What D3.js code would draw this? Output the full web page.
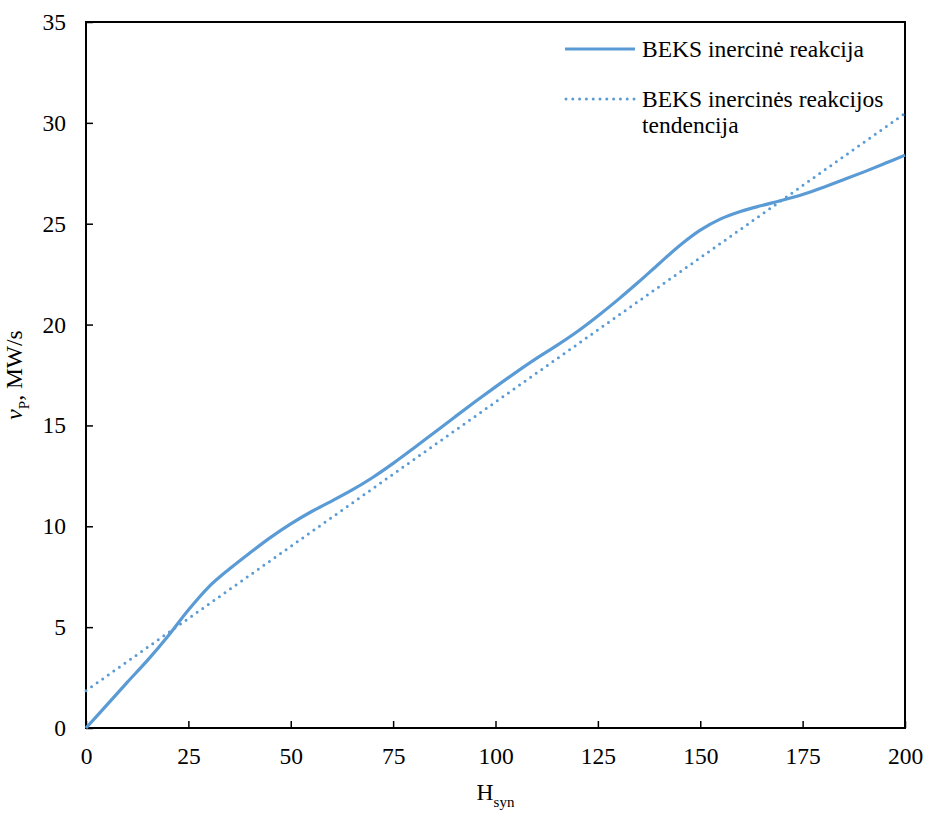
<!DOCTYPE html>
<html>
<head>
<meta charset="utf-8">
<script src="https://cdn.jsdelivr.net/npm/d3@7"></script>
<style>
  body { margin: 0; background: #fff; }
  text { font-family: "Liberation Serif", "Times New Roman", serif; fill: #000; }
</style>
</head>
<body>
<script>
// data
var hSyn = [0, 5, 10, 15, 20, 25, 30, 35, 40, 45, 50, 55, 60, 65, 70, 75, 80, 85, 90, 95, 100,
            105, 110, 115, 120, 125, 130, 135, 140, 145, 150, 155, 160, 165, 170, 175, 180, 185, 190, 195, 200];
var vP = [0, 1.12, 2.25, 3.35, 4.55, 5.85, 7.0, 7.88, 8.68, 9.44, 10.12, 10.72, 11.25, 11.8, 12.42, 13.12, 13.87, 14.64, 15.41, 16.17, 16.91,
          17.63, 18.32, 18.97, 19.66, 20.43, 21.25, 22.12, 23.03, 23.92, 24.68, 25.24, 25.62, 25.9, 26.16, 26.45, 26.8, 27.18, 27.57, 27.98, 28.4];
// trend line end points
var trendX = [0, 200];
var trendY = [1.85, 30.47];
var xTicks = [0, 25, 50, 75, 100, 125, 150, 175, 200];
var yTicks = [0, 5, 10, 15, 20, 25, 30, 35];
var legendLabels = ["BEKS inercinė reakcija", ["BEKS inercinės reakcijos", "tendencija"]];

var W = 926, H = 814;
var margin = {top: 22, right: 21, bottom: 86, left: 86};
var w = W - margin.left - margin.right;
var h = H - margin.top - margin.bottom;
var blue = '#5b9bd5';
var fontSize = '23.5px';

var svg = d3.select('body').append('svg')
  .attr('width', W)
  .attr('height', H);

var g = svg.append('g')
  .attr('transform', 'translate(' + margin.left + ',' + margin.top + ')');

var x = d3.scaleLinear().domain([0, 200]).range([0, w]);
var y = d3.scaleLinear().domain([0, 35]).range([h, 0]);

//axes with inward ticks
var xAxis = d3.axisBottom(x).tickValues(xTicks).tickSizeInner(-7).tickSizeOuter(0).tickPadding(19);
var yAxis = d3.axisLeft(y).tickValues(yTicks).tickSizeInner(-7).tickSizeOuter(0).tickPadding(20);

var gx = g.append('g').attr('transform', 'translate(0,' + h + ')').call(xAxis);
var gy = g.append('g').call(yAxis);
[gx, gy].forEach(function (a) {
  a.attr('font-family', null);
  a.select('.domain').remove();
  a.selectAll('line').attr('stroke', '#000').attr('stroke-width', 1.5);
  a.selectAll('text').style('font-size', fontSize).style('font-family', '"Liberation Serif", serif');
});

// plot frame
g.append('rect')
  .attr('x', 0).attr('y', 0)
  .attr('width', w).attr('height', h)
  .attr('fill', 'none')
  .attr('stroke', '#000')
  .attr('stroke-width', 2);

var line = d3.line()
  .x(function (d) { return x(d[0]); })
  .y(function (d) { return y(d[1]); })
  .curve(d3.curveCatmullRom.alpha(0.5));

g.append('path')
  .datum(trendX.map(function (v, i) { return [v, trendY[i]]; }))
  .attr('d', d3.line().x(function (d) { return x(d[0]); }).y(function (d) { return y(d[1]); }))
  .attr('fill', 'none')
  .attr('stroke', blue)
  .attr('stroke-width', 3)
  .attr('stroke-linecap', 'round')
  .attr('stroke-dasharray', '0 6.8');

g.append('path')
  .datum(hSyn.map(function (v, i) { return [v, vP[i]]; }))
  .attr('d', line)
  .attr('fill', 'none')
  .attr('stroke', blue)
  .attr('stroke-width', 3.2);

// legend
var leg = svg.append('g');
leg.append('line')
  .attr('x1', 565).attr('x2', 635).attr('y1', 49).attr('y2', 49)
  .attr('stroke', blue).attr('stroke-width', 3.2);
leg.append('text')
  .attr('x', 642).attr('y', 57)
  .style('font-size', fontSize)
  .text(legendLabels[0]);
leg.append('line')
  .attr('x1', 566).attr('x2', 635).attr('y1', 99).attr('y2', 99)
  .attr('stroke', blue).attr('stroke-width', 3)
  .attr('stroke-linecap', 'round').attr('stroke-dasharray', '0 6.8');
leg.append('text')
  .attr('x', 642).attr('y', 107)
  .style('font-size', fontSize)
  .text(legendLabels[1][0]);
leg.append('text')
  .attr('x', 642).attr('y', 133)
  .style('font-size', fontSize)
  .text(legendLabels[1][1]);

// axis titles
var xt = svg.append('text')
  .attr('x', margin.left + w / 2)
  .attr('y', 800)
  .attr('text-anchor', 'middle')
  .style('font-size', fontSize);
xt.append('tspan').text('H');
xt.append('tspan').attr('dy', 7).style('font-size', '15px').text('syn');

var yt = svg.append('text')
  .attr('transform', 'translate(22,' + (margin.top + h / 2) + ') rotate(-90)')
  .attr('text-anchor', 'middle')
  .style('font-size', fontSize);
yt.append('tspan').style('font-style', 'italic').text('v');
yt.append('tspan').attr('dy', 7).style('font-size', '15px').text('P');
yt.append('tspan').attr('dy', -7).text(', MW/s');
</script>
</body>
</html>
